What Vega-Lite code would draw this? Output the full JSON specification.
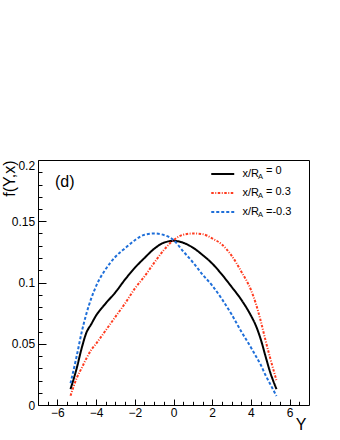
{
  "$schema": "https://vega.github.io/schema/vega-lite/v6.json",
  "width": 271,
  "height": 245,
  "autosize": "none",
  "padding": {"left": 38, "top": 160, "right": 31, "bottom": 35},
  "background": "white",
  "config": {"view": {"stroke": "#000", "strokeWidth": 1}, "font": "Liberation Sans"},
  "title": {"text": "(d)", "anchor": "start", "frame": "group", "orient": "top", "baseline": "top", "offset": -31, "dx": 17, "fontSize": 16, "fontWeight": "normal", "font": "Liberation Sans", "color": "#000"},
  "data": {"values": [
    {"xr": 0, "curve": "x/R_A= 0", "eq": "= 0", "Y": -5.32, "f": 0.013},
    {"xr": 0, "curve": "x/R_A= 0", "eq": "= 0", "Y": -5.0, "f": 0.030},
    {"xr": 0, "curve": "x/R_A= 0", "eq": "= 0", "Y": -4.75, "f": 0.046},
    {"xr": 0, "curve": "x/R_A= 0", "eq": "= 0", "Y": -4.5, "f": 0.059},
    {"xr": 0, "curve": "x/R_A= 0", "eq": "= 0", "Y": -4.25, "f": 0.066},
    {"xr": 0, "curve": "x/R_A= 0", "eq": "= 0", "Y": -4.0, "f": 0.073},
    {"xr": 0, "curve": "x/R_A= 0", "eq": "= 0", "Y": -3.5, "f": 0.083},
    {"xr": 0, "curve": "x/R_A= 0", "eq": "= 0", "Y": -3.0, "f": 0.092},
    {"xr": 0, "curve": "x/R_A= 0", "eq": "= 0", "Y": -2.5, "f": 0.1025},
    {"xr": 0, "curve": "x/R_A= 0", "eq": "= 0", "Y": -2.0, "f": 0.112},
    {"xr": 0, "curve": "x/R_A= 0", "eq": "= 0", "Y": -1.5, "f": 0.120},
    {"xr": 0, "curve": "x/R_A= 0", "eq": "= 0", "Y": -1.0, "f": 0.1275},
    {"xr": 0, "curve": "x/R_A= 0", "eq": "= 0", "Y": -0.5, "f": 0.1325},
    {"xr": 0, "curve": "x/R_A= 0", "eq": "= 0", "Y": 0.0, "f": 0.134},
    {"xr": 0, "curve": "x/R_A= 0", "eq": "= 0", "Y": 0.5, "f": 0.1325},
    {"xr": 0, "curve": "x/R_A= 0", "eq": "= 0", "Y": 1.0, "f": 0.1285},
    {"xr": 0, "curve": "x/R_A= 0", "eq": "= 0", "Y": 1.5, "f": 0.1225},
    {"xr": 0, "curve": "x/R_A= 0", "eq": "= 0", "Y": 2.0, "f": 0.1155},
    {"xr": 0, "curve": "x/R_A= 0", "eq": "= 0", "Y": 2.5, "f": 0.1065},
    {"xr": 0, "curve": "x/R_A= 0", "eq": "= 0", "Y": 3.0, "f": 0.0965},
    {"xr": 0, "curve": "x/R_A= 0", "eq": "= 0", "Y": 3.5, "f": 0.086},
    {"xr": 0, "curve": "x/R_A= 0", "eq": "= 0", "Y": 4.0, "f": 0.073},
    {"xr": 0, "curve": "x/R_A= 0", "eq": "= 0", "Y": 4.25, "f": 0.065},
    {"xr": 0, "curve": "x/R_A= 0", "eq": "= 0", "Y": 4.5, "f": 0.054},
    {"xr": 0, "curve": "x/R_A= 0", "eq": "= 0", "Y": 4.75, "f": 0.040},
    {"xr": 0, "curve": "x/R_A= 0", "eq": "= 0", "Y": 5.0, "f": 0.0265},
    {"xr": 0, "curve": "x/R_A= 0", "eq": "= 0", "Y": 5.32, "f": 0.013},
    {"xr": 0.3, "curve": "x/R_A= 0.3", "eq": "= 0.3", "Y": -5.32, "f": 0.0075},
    {"xr": 0.3, "curve": "x/R_A= 0.3", "eq": "= 0.3", "Y": -5.0, "f": 0.022},
    {"xr": 0.3, "curve": "x/R_A= 0.3", "eq": "= 0.3", "Y": -4.75, "f": 0.030},
    {"xr": 0.3, "curve": "x/R_A= 0.3", "eq": "= 0.3", "Y": -4.5, "f": 0.038},
    {"xr": 0.3, "curve": "x/R_A= 0.3", "eq": "= 0.3", "Y": -4.25, "f": 0.045},
    {"xr": 0.3, "curve": "x/R_A= 0.3", "eq": "= 0.3", "Y": -4.0, "f": 0.050},
    {"xr": 0.3, "curve": "x/R_A= 0.3", "eq": "= 0.3", "Y": -3.5, "f": 0.061},
    {"xr": 0.3, "curve": "x/R_A= 0.3", "eq": "= 0.3", "Y": -3.0, "f": 0.072},
    {"xr": 0.3, "curve": "x/R_A= 0.3", "eq": "= 0.3", "Y": -2.5, "f": 0.083},
    {"xr": 0.3, "curve": "x/R_A= 0.3", "eq": "= 0.3", "Y": -2.0, "f": 0.095},
    {"xr": 0.3, "curve": "x/R_A= 0.3", "eq": "= 0.3", "Y": -1.5, "f": 0.105},
    {"xr": 0.3, "curve": "x/R_A= 0.3", "eq": "= 0.3", "Y": -1.0, "f": 0.116},
    {"xr": 0.3, "curve": "x/R_A= 0.3", "eq": "= 0.3", "Y": -0.5, "f": 0.1265},
    {"xr": 0.3, "curve": "x/R_A= 0.3", "eq": "= 0.3", "Y": 0.0, "f": 0.1345},
    {"xr": 0.3, "curve": "x/R_A= 0.3", "eq": "= 0.3", "Y": 0.5, "f": 0.139},
    {"xr": 0.3, "curve": "x/R_A= 0.3", "eq": "= 0.3", "Y": 1.0, "f": 0.140},
    {"xr": 0.3, "curve": "x/R_A= 0.3", "eq": "= 0.3", "Y": 1.5, "f": 0.1395},
    {"xr": 0.3, "curve": "x/R_A= 0.3", "eq": "= 0.3", "Y": 2.0, "f": 0.136},
    {"xr": 0.3, "curve": "x/R_A= 0.3", "eq": "= 0.3", "Y": 2.5, "f": 0.131},
    {"xr": 0.3, "curve": "x/R_A= 0.3", "eq": "= 0.3", "Y": 3.0, "f": 0.122},
    {"xr": 0.3, "curve": "x/R_A= 0.3", "eq": "= 0.3", "Y": 3.5, "f": 0.109},
    {"xr": 0.3, "curve": "x/R_A= 0.3", "eq": "= 0.3", "Y": 4.0, "f": 0.094},
    {"xr": 0.3, "curve": "x/R_A= 0.3", "eq": "= 0.3", "Y": 4.25, "f": 0.083},
    {"xr": 0.3, "curve": "x/R_A= 0.3", "eq": "= 0.3", "Y": 4.5, "f": 0.069},
    {"xr": 0.3, "curve": "x/R_A= 0.3", "eq": "= 0.3", "Y": 4.75, "f": 0.053},
    {"xr": 0.3, "curve": "x/R_A= 0.3", "eq": "= 0.3", "Y": 5.0, "f": 0.038},
    {"xr": 0.3, "curve": "x/R_A= 0.3", "eq": "= 0.3", "Y": 5.32, "f": 0.020},
    {"xr": -0.3, "curve": "x/R_A=-0.3", "eq": "=-0.3", "Y": -5.32, "f": 0.0177},
    {"xr": -0.3, "curve": "x/R_A=-0.3", "eq": "=-0.3", "Y": -5.0, "f": 0.040},
    {"xr": -0.3, "curve": "x/R_A=-0.3", "eq": "=-0.3", "Y": -4.75, "f": 0.059},
    {"xr": -0.3, "curve": "x/R_A=-0.3", "eq": "=-0.3", "Y": -4.5, "f": 0.0745},
    {"xr": -0.3, "curve": "x/R_A=-0.3", "eq": "=-0.3", "Y": -4.25, "f": 0.087},
    {"xr": -0.3, "curve": "x/R_A=-0.3", "eq": "=-0.3", "Y": -4.0, "f": 0.097},
    {"xr": -0.3, "curve": "x/R_A=-0.3", "eq": "=-0.3", "Y": -3.5, "f": 0.111},
    {"xr": -0.3, "curve": "x/R_A=-0.3", "eq": "=-0.3", "Y": -3.0, "f": 0.121},
    {"xr": -0.3, "curve": "x/R_A=-0.3", "eq": "=-0.3", "Y": -2.5, "f": 0.128},
    {"xr": -0.3, "curve": "x/R_A=-0.3", "eq": "=-0.3", "Y": -2.0, "f": 0.1345},
    {"xr": -0.3, "curve": "x/R_A=-0.3", "eq": "=-0.3", "Y": -1.5, "f": 0.139},
    {"xr": -0.3, "curve": "x/R_A=-0.3", "eq": "=-0.3", "Y": -1.0, "f": 0.140},
    {"xr": -0.3, "curve": "x/R_A=-0.3", "eq": "=-0.3", "Y": -0.5, "f": 0.1388},
    {"xr": -0.3, "curve": "x/R_A=-0.3", "eq": "=-0.3", "Y": 0.0, "f": 0.1347},
    {"xr": -0.3, "curve": "x/R_A=-0.3", "eq": "=-0.3", "Y": 0.5, "f": 0.1255},
    {"xr": -0.3, "curve": "x/R_A=-0.3", "eq": "=-0.3", "Y": 1.0, "f": 0.1165},
    {"xr": -0.3, "curve": "x/R_A=-0.3", "eq": "=-0.3", "Y": 1.5, "f": 0.1065},
    {"xr": -0.3, "curve": "x/R_A=-0.3", "eq": "=-0.3", "Y": 2.0, "f": 0.0975},
    {"xr": -0.3, "curve": "x/R_A=-0.3", "eq": "=-0.3", "Y": 2.5, "f": 0.0865},
    {"xr": -0.3, "curve": "x/R_A=-0.3", "eq": "=-0.3", "Y": 3.0, "f": 0.074},
    {"xr": -0.3, "curve": "x/R_A=-0.3", "eq": "=-0.3", "Y": 3.5, "f": 0.060},
    {"xr": -0.3, "curve": "x/R_A=-0.3", "eq": "=-0.3", "Y": 4.0, "f": 0.047},
    {"xr": -0.3, "curve": "x/R_A=-0.3", "eq": "=-0.3", "Y": 4.25, "f": 0.040},
    {"xr": -0.3, "curve": "x/R_A=-0.3", "eq": "=-0.3", "Y": 4.5, "f": 0.033},
    {"xr": -0.3, "curve": "x/R_A=-0.3", "eq": "=-0.3", "Y": 4.75, "f": 0.0245},
    {"xr": -0.3, "curve": "x/R_A=-0.3", "eq": "=-0.3", "Y": 5.0, "f": 0.017},
    {"xr": -0.3, "curve": "x/R_A=-0.3", "eq": "=-0.3", "Y": 5.32, "f": 0.0073}
  ]},
  "layer": [
    {
      "mark": {"type": "line", "interpolate": "monotone", "strokeWidth": 2},
      "encoding": {
        "x": {
          "field": "Y", "type": "quantitative",
          "scale": {"domain": [-7, 7], "nice": false, "zero": false},
          "axis": {
            "orient": "bottom",
            "values": [-6, -4, -2, 0, 2, 4, 6],
            "format": "d",
            "tickSize": -6, "tickColor": "#000", "tickWidth": 1, "domain": false, "grid": false,
            "labelFont": "Liberation Sans", "labelFontSize": 12, "labelColor": "#000", "labelPadding": 8, "labelBaseline": "top", "labelAlign": "center",
            "labelFlush": false, "labelOverlap": false,
            "title": "Y", "titleFont": "Liberation Sans", "titleFontSize": 16, "titleFontWeight": "normal", "titleColor": "#000",
            "titleX": 268, "titleY": 11.5, "titleAlign": "right", "titleBaseline": "top"
          }
        },
        "y": {
          "field": "f", "type": "quantitative",
          "scale": {"domain": [0, 0.2], "nice": false, "zero": false},
          "axis": {
            "orient": "left",
            "values": [0, 0.05, 0.1, 0.15, 0.2],
            "labelExpr": "'' + datum.value",
            "tickSize": -8, "tickColor": "#000", "tickWidth": 1, "domain": false, "grid": false,
            "labelBaseline": {"condition": {"test": "datum.value > 0.195", "value": "top"}, "value": "middle"},
            "labelAlign": "right",
            "labelFont": "Liberation Sans", "labelFontSize": 12, "labelColor": "#000", "labelPadding": 11.4,
            "labelFlush": false, "labelOverlap": false,
            "title": "f(Y,x)", "titleFont": "Liberation Sans", "titleFontSize": 16, "titleFontWeight": "normal", "titleColor": "#000",
            "titleX": -29, "titleY": 0, "titleAngle": -90, "titleAlign": "right", "titleBaseline": "middle"
          }
        },
        "color": {
          "field": "xr", "type": "nominal",
          "scale": {"domain": [0, 0.3, -0.3], "range": ["#000000", "#ff3b1f", "#1f6fd9"]},
          "legend": {
            "title": null, "orient": "none", "legendX": 172, "legendY": 7, "padding": 0,
            "symbolType": "M-1,0H3", "symbolSize": 132, "symbolStrokeWidth": 2,
            "labelExpr": "'x/R'",
            "labelFont": "Liberation Sans", "labelFontSize": 11, "labelColor": "#000", "labelOffset": 18.5, "rowPadding": 7
          }
        },
        "strokeDash": {
          "field": "xr", "type": "nominal",
          "scale": {"domain": [0, 0.3, -0.3], "range": [[1, 0], [2.5, 1.5, 1, 1.5], [3, 2]]},
          "legend": {
            "title": null, "orient": "none", "legendX": 172, "legendY": 7, "padding": 0,
            "symbolType": "M-1,0H3", "symbolSize": 132, "symbolStrokeWidth": 2,
            "labelExpr": "'x/R'",
            "labelFont": "Liberation Sans", "labelFontSize": 11, "labelColor": "#000", "labelOffset": 18.5, "rowPadding": 7
          }
        },
        "opacity": {
          "field": "curve", "type": "ordinal",
          "scale": {"domain": ["x/R_A= 0", "x/R_A= 0.3", "x/R_A=-0.3"], "range": [1, 1, 1]},
          "legend": {
            "title": null, "orient": "none", "legendX": 208, "legendY": 11, "padding": 0,
            "symbolType": "circle", "symbolSize": 132, "symbolStrokeWidth": 0, "symbolFillColor": "transparent", "symbolStrokeColor": "transparent",
            "labelExpr": "'A'",
            "labelFont": "Liberation Sans", "labelFontSize": 7.5, "labelColor": "#000", "labelOffset": 0, "rowPadding": 7
          }
        },
        "strokeWidth": {
          "field": "eq", "type": "ordinal",
          "scale": {"domain": ["= 0", "= 0.3", "=-0.3"], "range": [2, 2, 2]},
          "legend": {
            "title": null, "orient": "none", "legendX": 214, "legendY": 4, "padding": 0,
            "symbolType": "circle", "symbolSize": 132, "symbolStrokeWidth": 0, "symbolFillColor": "transparent", "symbolStrokeColor": "transparent",
            "labelFont": "Liberation Sans", "labelFontSize": 11, "labelColor": "#000", "labelOffset": 0, "rowPadding": 0.5
          }
        }
      }
    },
    {
      "mark": {"type": "line", "opacity": 0, "strokeOpacity": 0},
      "encoding": {
        "x": {
          "field": "Y", "type": "quantitative",
          "axis": {
            "orient": "bottom",
            "values": [-6.5, -5.5, -5, -4.5, -3.5, -3, -2.5, -1.5, -1, -0.5, 0.5, 1, 1.5, 2.5, 3, 3.5, 4.5, 5, 5.5, 6.5],
            "tickSize": -3.7, "tickColor": "#000", "tickWidth": 1, "domain": false, "grid": false, "labels": false, "title": null
          }
        },
        "y": {
          "field": "f", "type": "quantitative",
          "axis": {
            "orient": "left",
            "values": [0.01, 0.02, 0.03, 0.04, 0.06, 0.07, 0.08, 0.09, 0.11, 0.12, 0.13, 0.14, 0.16, 0.17, 0.18, 0.19],
            "tickSize": -4, "tickColor": "#000", "tickWidth": 1, "domain": false, "grid": false, "labels": false, "title": null
          }
        }
      }
    }
  ],
  "resolve": {"axis": {"x": "independent", "y": "independent"}}
}
